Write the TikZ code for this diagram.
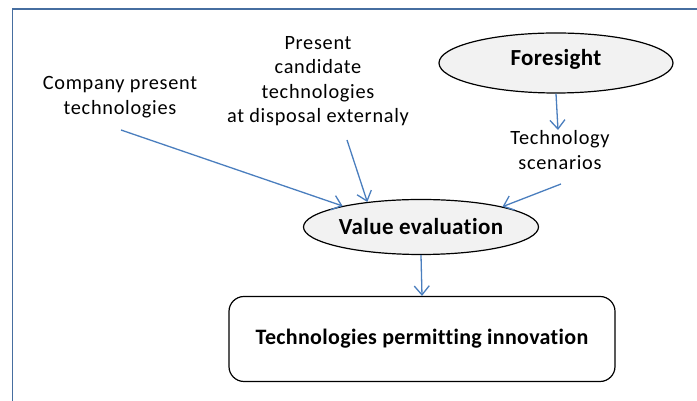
\documentclass[tikz,border=0pt]{standalone}
\usepackage{fontspec}
\setmainfont[Ligatures=NoCommon]{Carlito}
\newfontfamily\lblfont[LetterSpace=3.5,Ligatures=NoCommon]{Carlito}
\newfontfamily\boldlbl[LetterSpace=1.5,Ligatures=NoCommon]{Carlito}
\usetikzlibrary{shapes.geometric,arrows.meta}
\definecolor{framec}{RGB}{70,110,160}
\definecolor{arrowc}{RGB}{74,126,190}
\definecolor{ellfill}{RGB}{242,242,242}
\tikzset{
  ell/.style={ellipse, draw=black, line width=1.2pt, fill=ellfill, inner sep=0pt, font=\boldlbl\fontsize{23}{27}\selectfont\bfseries},
  lbl/.style={align=center, inner sep=0pt, font=\lblfont\fontsize{20.3}{24.5}\selectfont},
  conn/.style={draw=arrowc, line width=1.3pt, -{Straight Barb[length=9pt,width=15pt,line width=1.3pt]}},
  roundbox/.style={rectangle, draw=black, line width=1.2pt, rounded corners=15pt, inner sep=0pt, font=\boldlbl\fontsize{22}{27}\selectfont\bfseries}
}
\begin{document}
\begin{tikzpicture}[x=1pt,y=1pt]
\useasboundingbox (0,0) rectangle (697,401);
\begin{scope}
\clip (0,0) rectangle (697,401);
\draw[framec, line width=1.3pt] (12.5,-20) rectangle (720,392);
\end{scope}
\node[ell, minimum width=234pt, minimum height=60pt] (fore) at (556,338) {\raisebox{11pt}{Foresight}};
\node[ell, minimum width=235pt, minimum height=55pt] (value) at (421,174) {Value evaluation};
\node[roundbox, minimum width=386pt, minimum height=85pt] (box) at (422,62) {Technologies permitting innovation};
\node[lbl] (comp) at (120,304) {Company present\\technologies};
\node[lbl] (cand) at (318,320) {Present\\candidate\\technologies\\at disposal externaly};
\node[lbl] (scen) at (560,251) {Technology\\scenarios};
\coordinate (compend) at (121,271);
\coordinate (candend) at (347,261);
\coordinate (scenend) at (561,217);
\coordinate (scentop) at (558,271);
\draw[conn] (compend) -- (value.165.8);
\draw[conn] (candend) -- (value.155.8);
\draw[conn] (scenend) -- (value.14.7);
\draw[conn] (fore.south) -- (scentop);
\draw[conn] (value.south) -- (box.north);
\end{tikzpicture}
\end{document}
